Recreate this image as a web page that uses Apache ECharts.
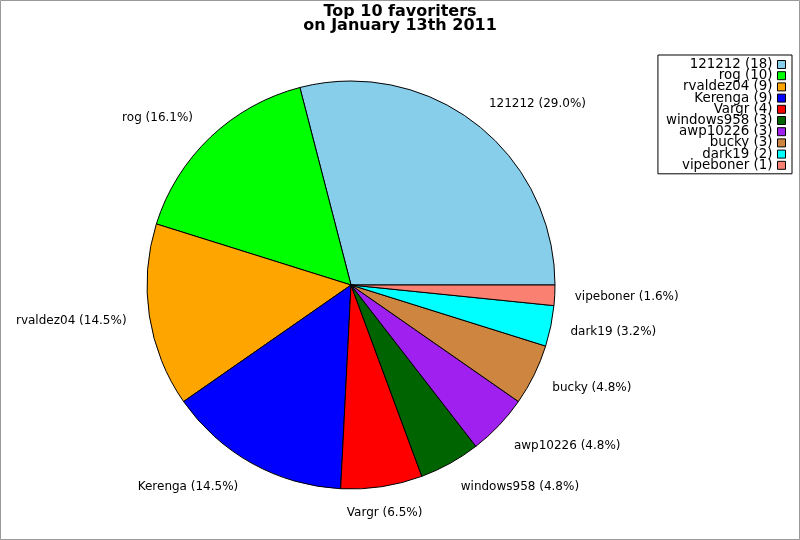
<!DOCTYPE html>
<html>
<head>
<meta charset="utf-8">
<script src="https://cdn.jsdelivr.net/npm/echarts@6/dist/echarts.min.js"></script>
<style>
  html, body { margin: 0; padding: 0; background: #fff; }
  #chart { width: 800px; height: 540px; }
</style>
</head>
<body>
<div id="chart"></div>
<script>
// favoriters and their counts
const names = ['121212', 'rog', 'rvaldez04', 'Kerenga', 'Vargr', 'windows958', 'awp10226', 'bucky', 'dark19', 'vipeboner']
const counts = [18, 10, 9, 9, 4, 3, 3, 3, 2, 1]
const colors = ['#87CEEB', '#00FF00', '#FFA500', '#0000FF', '#FF0000', '#006400', '#A020F0', '#CD853F', '#00FFFF', '#FA8072']

const CX = 351, CY = 285, R = 204
const R_LABEL = R + 18

let total = 0
for (let i = 0; i < counts.length; i++) total += counts[i]

// mid angle of every slice (start at 3 o'clock, counterclockwise)
let midAngle = []
let acc = 0
for (let i = 0; i < counts.length; i++) {
    midAngle.push((acc + counts[i] / 2) / total * Math.PI * 2)
    acc += counts[i]
}

let data = []
for (let i = 0; i < names.length; i++)
    data.push({ name: names[i], value: counts[i], itemStyle: { color: colors[i] } })

const font = 'DejaVu Sans'

let option = {
    animation: false,
    backgroundColor: '#fff',
    title: {
        text: 'Top 10 favoriters\non January 13th 2011',
        left: 'center',
        top: 3,
        padding: [2, 5],
        textStyle: {
            fontFamily: font,
            fontSize: 16,
            fontWeight: 'bold',
            color: '#000',
            lineHeight: 14
        }
    },
    legend: {
        orient: 'vertical',
        right: 8,
        top: 55,
        align: 'right',
        padding: [3, 6, 2, 8],
        itemWidth: 8,
        itemHeight: 8,
        itemGap: -1.8,
        backgroundColor: '#fff',
        borderColor: '#000',
        borderWidth: 1,
        borderRadius: 0,
        icon: 'rect',
        itemStyle: { borderColor: '#000', borderWidth: 1 },
        selectedMode: false,
        data: names,
        formatter: name => name + ' (' + counts[names.indexOf(name)] + ')',
        textStyle: {
            fontFamily: font,
            fontSize: 13.4,
            lineHeight: 11,
            color: '#000'
        }
    },
    graphic: [{
        type: 'rect',
        shape: { x: 0.5, y: 0.5, width: 799, height: 539 },
        style: { fill: 'none', stroke: '#999', lineWidth: 1 },
        silent: true
    }],
    series: [{
        type: 'pie',
        center: [CX, CY],
        radius: R,
        startAngle: 0,
        clockwise: false,
        avoidLabelOverlap: false,
        itemStyle: { borderColor: '#000', borderWidth: 1 },
        emphasis: { disabled: true },
        label: {
            show: true,
            position: 'outside',
            fontFamily: font,
            fontSize: 12,
            color: '#000',
            overflow: 'none',
            formatter: p => p.name + ' (' + (p.value / total * 100).toFixed(1) + '%)'
        },
        labelLine: { show: false },
        // place labels outside the rim, shifted by the angle of each slice
        labelLayout: function (p) {
            const a = midAngle[p.dataIndex]
            const c = Math.cos(a), s = Math.sin(a)
            const px = CX + R_LABEL * c
            const py = CY - R_LABEL * s
            const w = p.labelRect.width, h = p.labelRect.height
            const dx = c > 0.2 ? 0 : (c < -0.2 ? 1 : 0.5)
            const dy = Math.min(1, Math.max(0, 0.5 + s))
            const nudgeX = dx === 0 ? 2 : (dx === 1 ? -5 : 0)
            const nudgeY = s < -0.5 ? 2 : 0
            return { x: px - dx * w + nudgeX, y: py - dy * h + nudgeY, align: 'left', verticalAlign: 'top' }
        },
        data: data
    }]
}

let chartDom = echarts.init(document.querySelector('#chart'))
chartDom.setOption(option)
</script>
</body>
</html>
